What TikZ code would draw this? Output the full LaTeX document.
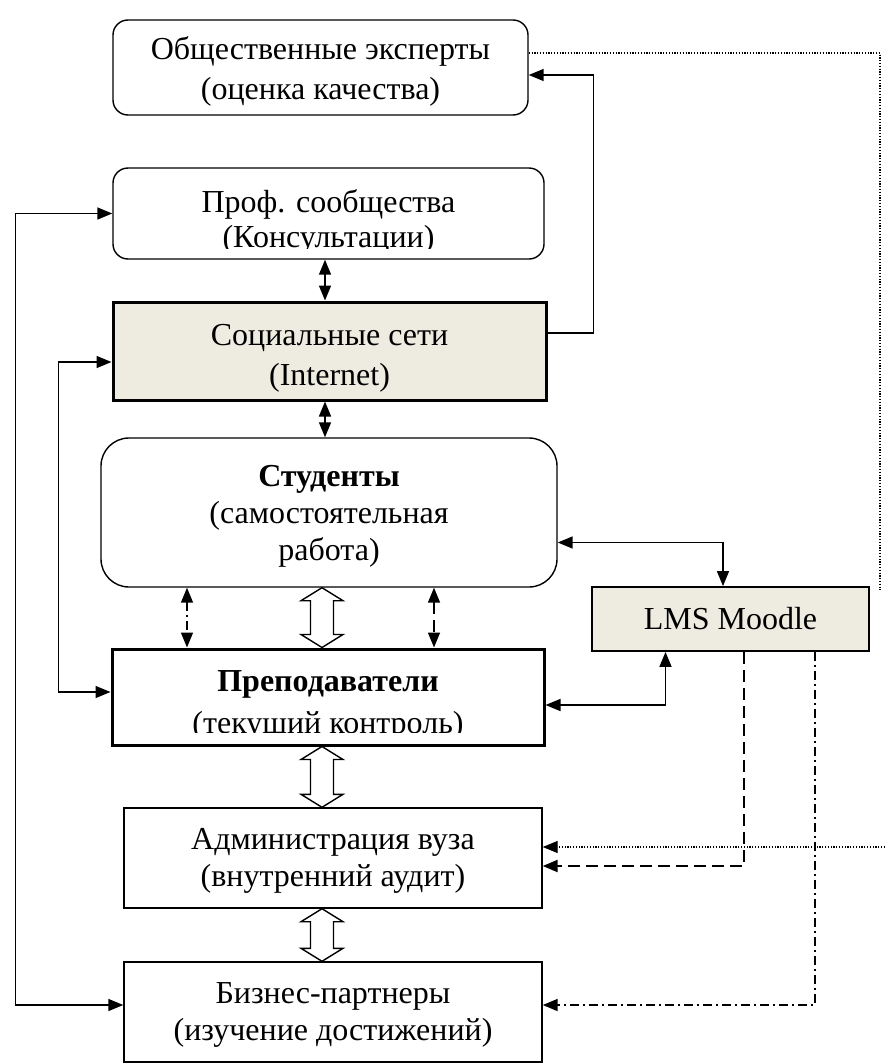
\documentclass[tikz,border=0pt]{standalone}
\usepackage{fontspec}
\setmainfont{Liberation Serif}
\usetikzlibrary{arrows.meta, calc, positioning}
\definecolor{paper}{HTML}{EEECE1}
\tikzset{
    >={Triangle[length=15pt,width=12pt]}, % filled heads, as in the original
    box/.style 2 args={draw, line width=1.4pt, minimum width=#1, minimum height=#2, inner sep=0pt},
    rbox/.style 2 args={box={#1}{#2}, rounded corners=15pt}, % rounded box
    tbox/.style 2 args={box={#1}{#2}, line width=3pt}, % thick frame
    txt/.style={align=center, yshift=-3pt, font=\fontsize{32}{37}\selectfont},
}
\tikzstyle{link} = [line width=1.5pt]
\tikzstyle{dashline} = [dash pattern=on 12pt off 6pt]
\tikzstyle{dashdotline} = [dash pattern=on 9pt off 4pt on 2pt off 4pt]
\tikzstyle{dotline} = [dash pattern=on 1.2pt off 1.6pt, line width=1.2pt]

% hollow two-way block arrow between two boxes
\newcommand{\hollowarrow}[2]{%
    \draw[line width=1.4pt, fill=white, line join=miter]
        (322,0 |- #1.south) -- ($(322,0 |- #1.south)+(21,13)$) -- ($(322,0 |- #1.south)+(11.5,13)$)
        -- ($(322,0 |- #2.north)+(11.5,-13)$) -- ($(322,0 |- #2.north)+(21,-13)$) -- (322,0 |- #2.north)
        -- ($(322,0 |- #2.north)+(-21,-13)$) -- ($(322,0 |- #2.north)+(-11.5,-13)$)
        -- ($(322,0 |- #1.south)+(-11.5,13)$) -- ($(322,0 |- #1.south)+(-21,13)$) -- cycle;}

\begin{document}
\begin{tikzpicture}[x=1pt, y=-1pt]
    \useasboundingbox (0,0) rectangle (885,1063);

    % boxes
    \node[rbox={415}{95}, label={[txt, yshift=-1pt]center:{Общественные эксперты\\[3pt](оценка качества)}}] (expert) at (320.5,67.5) {};
    \node[rbox={431}{91}] (prof) at (328.5,213.5) {};
    \node[tbox={433}{98}, fill=paper, label={[txt, yshift=-4pt]center:{Социальные сети\\[3pt](Internet)}}] (social) at (329.5,351) {};
    \node[rbox={456}{149}, rounded corners=28pt, label={[txt, yshift=-1pt]center:{\textbf{Студенты}\\(самостоятельная\\работа)}}] (students) at (329,512.5) {};
    \node[tbox={432}{96}] (teachers) at (328,697) {};
    \node[box={277}{64}, line width=1.8pt, fill=paper, label={[txt, yshift=3pt]center:LMS Moodle}] (lms) at (730.5,619) {};
    \node[box={418}{100}, label={[txt]center:{Администрация вуза\\(внутренний аудит)}}] (admin) at (333,858) {};
    \node[box={418}{100}, label={[txt]center:{Бизнес-партнеры\\(изучение достижений)}}] (business) at (333,1012) {};

    % texts cut by the frame
    \begin{scope}
        \clip (113,168) rectangle (544,248);
        \node[txt, yshift=3pt] (proftext) at (328.5,222) {Проф. сообщества\\[-2pt](Консультации)};
    \end{scope}
    \begin{scope}
        \clip (112,649) rectangle (544,732.5);
        \node[txt, yshift=1pt] (teachtext) at (328,703.5) {\textbf{Преподаватели}\\[5pt](текущий контроль)};
    \end{scope}

    \coordinate (dotend) at (880,590);
    \coordinate (dotin) at (885,847);

    % links
    \draw[link, <->] (325,0 |- prof.south) -- (325,0 |- social.north);
    \draw[link, <->] (325,0 |- social.south) -- (325,0 |- students.north);
    \draw[link, <->] (prof.west) -- ++(-97,0) |- ([yshift=7pt]business.west);
    \draw[link, <->] ([yshift=-11pt]social.west) -- ++(-53,0) |- ([yshift=5pt]teachers.west);
    \draw[link, ->] ([yshift=18pt]social.east) -- ++(46,0) |- ([yshift=-7.5pt]expert.east);
    \draw[link, <->] ([yshift=-30pt]students.east) -| ([xshift=-7.5pt]lms.north);
    \draw[link, <->] ([yshift=-8pt]teachers.east) -| ([xshift=-65pt]lms.south);
    \draw[link, <->, dashdotline] (187,0 |- students.south) -- (187,0 |- teachers.north);
    \draw[link, <->, dashline] (434,0 |- students.south) -- (434,0 |- teachers.north);
    \draw[link, ->, dashline, line width=2.2pt] (744,0 |- lms.south) |- ([yshift=-8pt]admin.east);
    \draw[link, ->, dashdotline] (815,0 |- lms.south) |- ([yshift=7pt]business.east);
    \draw[dotline] ([yshift=14.5pt]expert.east) -| (dotend);
    \draw[dotline, ->] (dotin) -- (dotin -| admin.east);

    \hollowarrow{students}{teachers}
    \hollowarrow{teachers}{admin}
    \hollowarrow{admin}{business}
\end{tikzpicture}
\end{document}
